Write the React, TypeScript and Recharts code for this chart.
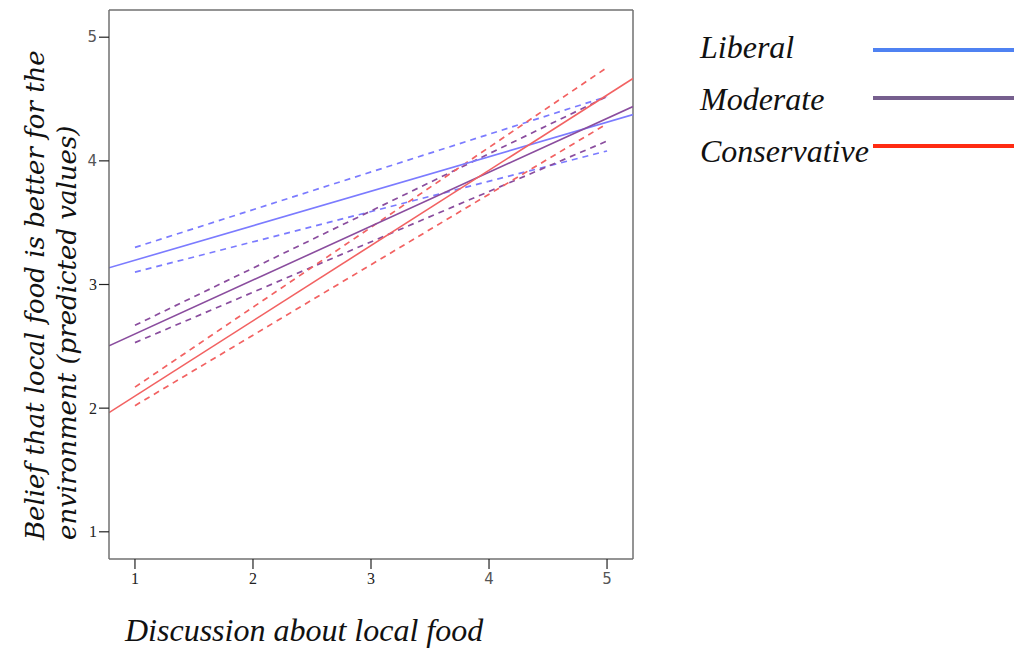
import { LineChart, Line, XAxis, YAxis, ReferenceLine } from "recharts";

// x range covered by the fitted lines (full plot width) and by the CI lines
const fitX = [0.78, 5.22];
const ciX = [1, 5];

const liberalFit = [3.135, 4.374];
const moderateFit = [2.504, 4.439];
const conservativeFit = [1.964, 4.666];

const liberalUpper = [3.3, 4.52];
const liberalLower = [3.1, 4.08];
const moderateUpper = [2.67, 4.52];
const moderateLower = [2.53, 4.16];
const conservativeUpper = [2.17, 4.755];
const conservativeLower = [2.02, 4.3];

const axisTicks = [1, 2, 3, 4, 5];
const groups = ["Liberal", "Moderate", "Conservative"];

const PLOT_COLORS = ["#7b7bff", "#8a4d9e", "#f26262"];
const LEGEND_COLORS = ["#4f82f2", "#765f8e", "#ff2b12"];

const toPoints = (xs: number[], ys: number[]) => xs.map((x, i) => ({ x, y: ys[i] }));

const fits = [liberalFit, moderateFit, conservativeFit];
const bands = [
  [liberalUpper, liberalLower],
  [moderateUpper, moderateLower],
  [conservativeUpper, conservativeLower],
];

const SERIF = "'Liberation Serif', 'Times New Roman', serif";
const SANS = "'DejaVu Sans', sans-serif";

// the source mixes fonts on the tick labels
const YTick = ({ x, y, payload }: any) => (
  <text
    x={x}
    y={y}
    dy="0.35em"
    textAnchor="end"
    fontSize={payload.value >= 4 ? 15 : 16}
    fill={payload.value >= 4 ? "#555" : "#222"}
    fontFamily={payload.value >= 4 ? SANS : SERIF}
  >
    {payload.value}
  </text>
);

const XTick = ({ x, y, payload }: any) => (
  <text
    x={x}
    y={y}
    dy="0.71em"
    textAnchor="middle"
    fontSize={payload.value >= 4 ? 15 : 16}
    fill={payload.value >= 4 ? "#555" : "#222"}
    fontFamily={payload.value >= 4 ? SANS : SERIF}
  >
    {payload.value}
  </text>
);

const YLabel = () => (
  <g fontFamily="'DejaVu Serif', serif" fontStyle="italic" fontSize={26} fill="#111">
    <text x={44} y={540} transform="rotate(-90 44 540)" textAnchor="start">
      Belief that local food is better for the
    </text>
    <text x={76} y={540} transform="rotate(-90 76 540)" textAnchor="start">
      environment (predicted values)
    </text>
  </g>
);

const XLabel = () => (
  <text x={125} y={641} fontFamily={SERIF} fontStyle="italic" fontSize={32} fill="#111">
    Discussion about local food
  </text>
);

const App = () => {
  return (
    <div style={{ position: "absolute", left: 0, top: 0, width: 1014, height: 650, background: "#fff" }}>
      <LineChart width={1014} height={650} margin={{ top: 10, right: 381, bottom: 61, left: 79 }}>
        <XAxis
          dataKey="x"
          type="number"
          domain={[0.78, 5.22]}
          ticks={axisTicks}
          height={30}
          tickSize={10}
          tickMargin={4}
          tick={<XTick />}
          axisLine={{ stroke: "#707070", strokeWidth: 1.5 }}
          tickLine={{ stroke: "#222", strokeWidth: 1.2 }}
          allowDataOverflow
          label={<XLabel />}
        />
        <YAxis
          dataKey="y"
          type="number"
          domain={[0.78, 5.22]}
          ticks={axisTicks}
          width={30}
          tickSize={10}
          tickMargin={2}
          tick={<YTick />}
          axisLine={{ stroke: "#707070", strokeWidth: 1.5 }}
          tickLine={{ stroke: "#222", strokeWidth: 1.2 }}
          allowDataOverflow
          label={<YLabel />}
        />
        <ReferenceLine y={5.22} stroke="#707070" strokeWidth={1.5} />
        <ReferenceLine x={5.22} stroke="#707070" strokeWidth={1.5} />

        {bands.map((pair, gi) =>
          pair.map((vals, k) => (
            <Line
              key={`${groups[gi]}-ci-${k}`}
              data={toPoints(ciX, vals)}
              dataKey="y"
              type="linear"
              stroke={PLOT_COLORS[gi]}
              strokeWidth={1.7}
              strokeDasharray="6 5"
              dot={false}
              activeDot={false}
              isAnimationActive={false}
            />
          ))
        )}

        {fits.map((vals, gi) => (
          <Line
            key={groups[gi]}
            data={toPoints(fitX, vals)}
            dataKey="y"
            type="linear"
            stroke={PLOT_COLORS[gi]}
            strokeWidth={1.6}
            dot={false}
            activeDot={false}
            isAnimationActive={false}
          />
        ))}
      </LineChart>

      <svg width={1014} height={650} style={{ position: "absolute", left: 0, top: 0, pointerEvents: "none" }}>
        {groups.map((name, i) => (
          <g key={name}>
            <text x={700} y={58 + i * 52} fontFamily={SERIF} fontStyle="italic" fontSize={32} fill="#111">
              {name}
            </text>
            <line x1={873} x2={1014} y1={50 + i * 48} y2={50 + i * 48} stroke={LEGEND_COLORS[i]} strokeWidth={4} />
          </g>
        ))}
      </svg>
    </div>
  );
};

export default App;
